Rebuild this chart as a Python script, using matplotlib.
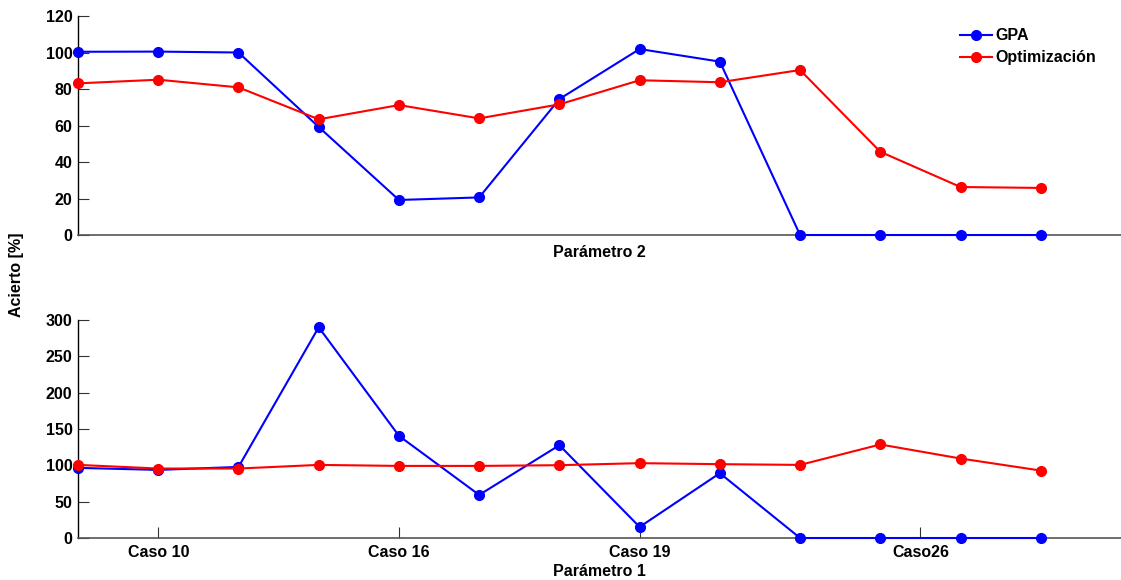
import matplotlib
matplotlib.use("Agg")
import matplotlib.pyplot as plt

plt.rcParams['font.family'] = ['Liberation Sans', 'DejaVu Sans']
plt.rcParams['font.weight'] = 'bold'
plt.rcParams['font.size'] = 11.5

# Case index along the horizontal axis
casos = list(range(1, 14))

# Parámetro 2 (upper panel)
gpa_p2 = [100.4, 100.5, 100.0, 59.2, 19.2, 20.6, 74.5, 101.9, 95.0, 0, 0, 0, 0]
opt_p2 = [83.1, 85.1, 80.9, 63.4, 71.2, 63.9, 71.6, 84.8, 83.7, 90.4, 45.6, 26.3, 25.8]

# Parámetro 1 (lower panel)
gpa_p1 = [96.5, 93.7, 97.8, 290.0, 140.6, 59.3, 127.7, 15.2, 89.2, 0, 0, 0, 0]
opt_p1 = [100.6, 95.6, 95.6, 100.6, 99.2, 99.2, 100.2, 103.0, 101.6, 100.6, 128.7, 109.4, 92.8]

tick_pos = [2, 5, 8, 11.5]
tick_labels = ['Caso 10', 'Caso 16', 'Caso 19', 'Caso26']

fig = plt.figure(figsize=(11.21, 5.80), dpi=100)
ax1 = fig.add_axes([0.0696, 0.5948, 0.9304, 0.3776])
ax2 = fig.add_axes([0.0696, 0.0724, 0.9304, 0.3759])

line_kw = dict(lw=1.5, marker='o', markersize=7, clip_on=False)


def style(ax):
    for s in ('top', 'right'):
        ax.spines[s].set_visible(False)
    ax.spines['left'].set_color('black')
    ax.spines['left'].set_linewidth(1.0)
    ax.spines['bottom'].set_color('#555555')
    ax.spines['bottom'].set_linewidth(1.2)
    ax.set_xlim(1, 14)
    ax.tick_params(axis='y', direction='in', length=8, width=0.8,
                   color='#333333', pad=4, labelsize=11.5)
    ax.tick_params(axis='x', direction='in', length=8, width=0.8,
                   color='#333333', pad=5, labelsize=11.5)
    for lab in ax.get_yticklabels() + ax.get_xticklabels():
        lab.set_fontweight('bold')


ax1.plot(casos, gpa_p2, color='#0000ff', label='GPA', zorder=3, **line_kw)
ax1.plot(casos, opt_p2, color='#ff0000', label='Optimización', zorder=4, **line_kw)
ax1.set_ylim(0, 120)
ax1.set_yticks(range(0, 121, 20))
ax1.set_xticks([])
style(ax1)
ax1.set_xlabel('Parámetro 2', fontweight='bold', labelpad=7)
ax1.legend(loc='upper right', bbox_to_anchor=(0.99, 1.01), frameon=False,
           handlelength=2.0, handletextpad=0.2, labelspacing=0.45,
           prop={'weight': 'bold', 'size': 11.5})

ax2.plot(casos, gpa_p1, color='#0000ff', zorder=3, **line_kw)
ax2.plot(casos, opt_p1, color='#ff0000', zorder=4, **line_kw)
ax2.set_ylim(0, 300)
ax2.set_yticks(range(0, 301, 50))
ax2.set_xticks(tick_pos)
ax2.set_xticklabels(tick_labels)
style(ax2)
ax2.set_xlabel('Parámetro 1', fontweight='bold', labelpad=3)

fig.text(17 / 1121, 1 - 275 / 580, 'Acierto [%]', rotation=90,
         ha='center', va='center', fontweight='bold', fontsize=11.5)

fig.savefig('out.png', dpi=100)
